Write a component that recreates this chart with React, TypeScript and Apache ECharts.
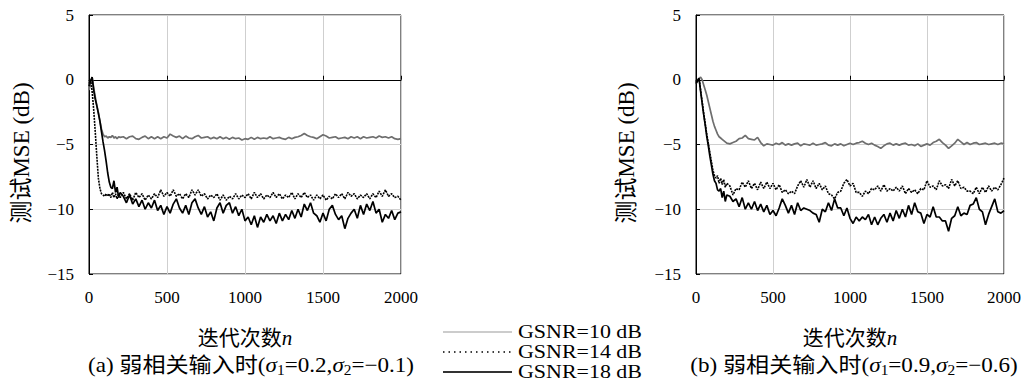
import React, { useEffect, useRef } from "react";
import * as echarts from "echarts";

// iteration index (x values shared by all series)
const xs = [
  0, 10, 20, 30, 40, 50, 60, 70, 80, 90, 100, 110, 120, 130, 140, 150, 160, 170, 180, 190, 200,
  220, 240, 260, 280, 300, 320, 340, 360, 380, 400,
  420, 440, 460, 480, 500, 520, 540, 560, 580, 600,
  620, 640, 660, 680, 700, 720, 740, 760, 780, 800,
  820, 840, 860, 880, 900, 920, 940, 960, 980, 1000,
  1020, 1040, 1060, 1080, 1100, 1120, 1140, 1160, 1180, 1200,
  1220, 1240, 1260, 1280, 1300, 1320, 1340, 1360, 1380, 1400,
  1420, 1440, 1460, 1480, 1500, 1520, 1540, 1560, 1580, 1600,
  1620, 1640, 1660, 1680, 1700, 1720, 1740, 1760, 1780, 1800,
  1820, 1840, 1860, 1880, 1900, 1920, 1940, 1960, 1980, 2000,
];

// (a) left panel
const left10 = [
  -0.8, -0.3, 0.2, -0.6, -1.3, -2.0, -2.5, -3.2, -3.8, -4.2, -4.4, -4.35, -4.5, -4.4, -4.45, -4.3, -4.5, -4.4, -4.55, -4.4, -4.45,
  -4.40, -4.55, -4.40, -4.35, -4.55, -4.60, -4.45, -4.35, -4.55, -4.40,
  -4.55, -4.40, -4.55, -4.40, -4.50, -4.20, -4.35, -4.45, -4.35, -4.55,
  -4.35, -4.50, -4.55, -4.40, -4.30, -4.50, -4.45, -4.40, -4.55, -4.45,
  -4.55, -4.40, -4.55, -4.45, -4.60, -4.45, -4.55, -4.50, -4.65, -4.55,
  -4.60, -4.45, -4.60, -4.45, -4.55, -4.50, -4.55, -4.40, -4.55, -4.50,
  -4.45, -4.55, -4.60, -4.45, -4.55, -4.45, -4.40, -4.30, -4.15, -4.30,
  -4.40, -4.45, -4.55, -4.40, -4.25, -4.35, -4.50, -4.45, -4.40, -4.55,
  -4.50, -4.45, -4.55, -4.40, -4.50, -4.40, -4.55, -4.40, -4.50, -4.45,
  -4.40, -4.50, -4.35, -4.45, -4.40, -4.50, -4.40, -4.55, -4.60, -4.55,
];
const left14 = [
  -0.5, 0.0, -0.9, -2.3, -4.0, -5.9, -7.6, -8.4, -8.8, -8.9, -9.0, -8.8, -9.0, -8.8, -9.1, -8.7, -9.1, -8.8, -9.2, -8.8, -9.1,
  -8.7, -9.2, -8.8, -9.3, -8.7, -9.1, -8.8, -9.3, -8.9, -9.2,
  -8.8, -9.1, -8.5, -9.0, -8.7, -9.0, -8.5, -9.0, -8.8, -9.2,
  -8.8, -9.1, -8.5, -8.9, -8.5, -9.0, -8.8, -9.2, -8.9, -9.1,
  -8.8, -9.3, -8.9, -9.3, -9.0, -9.2, -8.8, -9.2, -8.9, -9.1,
  -8.8, -9.2, -8.7, -9.1, -8.8, -9.2, -8.9, -9.1, -8.7, -9.1,
  -8.8, -9.2, -8.9, -9.1, -8.7, -9.2, -8.8, -9.1, -8.7, -9.1,
  -8.9, -9.3, -8.9, -9.2, -8.9, -9.3, -9.0, -9.2, -8.8, -9.1,
  -8.8, -9.2, -8.7, -9.0, -8.8, -9.2, -8.9, -9.1, -8.8, -9.2,
  -8.8, -9.1, -8.6, -9.0, -8.5, -9.0, -8.8, -9.1, -9.0, -9.3,
];
const left18 = [
  -0.3, -0.1, 0.2, -0.8, -1.5, -2.0, -2.6, -3.2, -4.0, -4.8, -5.5, -6.3, -7.2, -7.9, -8.3, -8.4, -7.8, -8.7, -8.3, -9.1, -8.7,
  -9.0, -9.5, -8.9, -9.6, -9.2, -9.8, -9.3, -10.0, -9.5, -9.9,
  -9.3, -10.1, -9.7, -10.4, -9.8, -10.3, -9.6, -9.2, -9.9, -10.3,
  -9.7, -10.4, -9.5, -9.2, -9.9, -10.4, -9.8, -10.6, -10.2, -10.9,
  -9.9, -9.5, -10.3, -9.7, -9.5, -10.3, -9.8, -10.5, -10.0, -10.9,
  -10.6, -11.2, -10.5, -11.4, -10.6, -11.0, -10.4, -10.9, -10.5, -11.1,
  -10.3, -10.9, -10.4, -10.8, -10.1, -10.7, -10.0, -10.6, -9.6, -10.1,
  -9.5, -10.3, -10.5, -11.0, -10.3, -10.9, -10.0, -9.7, -10.4, -10.8,
  -10.5, -11.5, -10.7, -10.3, -10.0, -10.7, -9.7, -10.4, -9.6, -10.1,
  -9.4, -10.3, -10.0, -11.0, -10.4, -10.7, -10.1, -10.8, -10.3, -10.2,
];

// (b) right panel
const right10 = [
  -0.3, -0.1, 0.1, 0.2, 0.0, -0.4, -0.8, -1.2, -1.7, -2.2, -2.7, -3.2, -3.6, -3.9, -4.2, -4.4, -4.5, -4.6, -4.7, -4.8, -4.9,
  -4.95, -4.85, -4.75, -4.55, -4.5, -4.3, -4.55, -4.6, -4.65, -4.45,
  -4.85, -5.1, -4.95, -5.0, -5.05, -4.9, -5.0, -4.85, -5.05, -4.95,
  -5.05, -4.95, -4.9, -5.1, -4.95, -5.0, -5.05, -4.9, -5.05, -5.0,
  -4.95, -4.85, -5.05, -5.1, -4.95, -5.05, -4.95, -5.1, -5.0, -4.9,
  -5.0, -4.9, -4.85, -4.75, -4.9, -5.0, -4.9, -5.05, -5.15, -5.3,
  -5.1, -4.95, -4.9, -5.05, -4.95, -5.05, -4.95, -4.9, -5.05, -5.0,
  -5.1, -4.95, -5.15, -5.05, -4.95, -5.05, -4.85, -4.75, -4.6, -4.85,
  -5.05, -5.3, -5.1, -4.9, -4.6, -4.8, -5.0, -4.85, -5.0, -4.9,
  -4.85, -5.0, -4.95, -4.9, -5.0, -4.95, -4.9, -5.0, -4.9, -4.95,
];
const right14 = [
  -0.2, 0.0, 0.1, -0.8, -1.7, -2.6, -3.4, -4.2, -4.9, -5.6, -6.3, -7.0, -7.4, -7.6, -7.4, -8.0, -7.6, -8.1, -7.7, -8.3, -8.0,
  -8.2, -8.9, -8.4, -8.5, -7.9, -8.3, -7.8, -8.4, -8.0, -8.5,
  -7.9, -8.4, -7.9, -8.4, -8.0, -8.5, -8.1, -8.7, -8.5, -8.8,
  -8.6, -8.8, -8.2, -7.8, -8.3, -7.7, -8.3, -7.8, -8.4, -8.0,
  -8.5, -8.2, -8.8, -8.9, -9.2, -8.7, -8.6, -8.0, -7.7, -8.2,
  -8.0, -8.7, -8.7, -9.0, -8.6, -8.8, -8.4, -8.5, -8.2, -8.6,
  -8.1, -8.6, -8.4, -8.6, -8.3, -8.6, -8.2, -8.8, -8.4, -8.7,
  -8.5, -8.8, -8.4, -8.5, -7.8, -8.3, -8.2, -8.5, -7.8, -8.2,
  -8.1, -8.4, -7.7, -8.2, -7.8, -8.4, -8.3, -8.6, -8.6, -8.8,
  -8.3, -8.8, -8.3, -8.7, -8.2, -8.6, -8.3, -8.5, -8.1, -7.6,
];
const right18 = [
  -0.3, -0.1, 0.1, -0.9, -1.8, -2.7, -3.5, -4.4, -5.1, -5.9, -6.6, -7.3, -7.8, -8.0, -8.5, -8.6, -8.4, -9.1, -8.6, -9.4, -8.9,
  -9.0, -9.4, -9.2, -9.8, -9.1, -10.0, -9.5, -10.0, -9.4, -10.1,
  -9.6, -10.2, -9.7, -10.4, -10.1, -10.5, -9.9, -9.2, -9.7, -10.3,
  -9.7, -10.4, -9.5, -10.1, -9.9, -10.0, -10.1, -10.3, -10.4, -11.0,
  -10.0, -10.2, -9.5, -10.1, -9.2, -9.9, -9.9, -10.5, -9.9, -10.7,
  -11.1, -10.6, -10.9, -10.6, -10.8, -10.4, -11.2, -10.6, -11.2, -10.7,
  -10.4, -11.0, -10.3, -10.9, -10.1, -10.7, -10.0, -10.6, -9.7, -10.4,
  -9.5, -10.2, -10.3, -11.1, -10.4, -10.6, -9.8, -10.6, -10.6, -10.9,
  -10.9, -11.7, -10.7, -10.5, -9.8, -10.5, -10.3, -10.4, -9.7, -9.6,
  -9.1, -10.0, -10.2, -11.2, -10.4, -9.8, -9.2, -10.2, -10.3, -10.1,
];

const legendLabels = ["GSNR=10 dB", "GSNR=14 dB", "GSNR=18 dB"];
const xTicks = [0, 500, 1000, 1500, 2000];
const yTicks = [-15, -10, -5, 0, 5];
const xName = "迭代次数{n|n}";
const yName = "测试MSE (dB)";
const captions = [
  "(a) 弱相关输入时({s|σ}{sub|1}=0.2,{s|σ}{sub|2}=−0.1)",
  "(b) 弱相关输入时({s|σ}{sub|1}=0.9,{s|σ}{sub|2}=−0.6)",
];

const SERIF = "Liberation Serif, serif";
const MIXED = "Liberation Serif, Noto Sans CJK SC, serif";

const GRAY = "#6e6e6e";

const zip = (ys: number[]) => ys.map((y, i) => [xs[i], y]);

const styles = [
  { color: GRAY, type: "solid", width: 1.7 },
  { color: "#000", type: [2, 1], width: 1.6 },
  { color: "#000", type: "solid", width: 1.7 },
];

export default function App() {
  const ref = useRef<HTMLDivElement>(null);
  useEffect(() => {
    if (!ref.current) return;
    const chart = echarts.init(ref.current, undefined, { renderer: "svg" });
    const grids = [
      { left: 89, top: 15, width: 312, height: 259 },
      { left: 696, top: 15, width: 310, height: 259 },
    ];
    const xAxis = grids.map((_, i) => ({
      type: "value",
      gridIndex: i,
      min: xTicks[0],
      max: xTicks[xTicks.length - 1],
      interval: 500,
      name: xName,
      nameLocation: "middle",
      nameGap: 53,
      nameTextStyle: {
        fontSize: 21,
        fontFamily: MIXED,
        color: "#000",
        rich: { n: { fontSize: 21, fontFamily: SERIF, fontStyle: "italic", color: "#000" } },
      },
      axisLine: { show: true, lineStyle: { color: "#000", width: 1 } },
      axisTick: { show: true, inside: true, length: 4, lineStyle: { color: "#000" } },
      axisLabel: {
        fontSize: 17,
        fontFamily: SERIF,
        color: "#000",
        margin: 15,
        formatter: (v: number) => String(v),
      },
      splitLine: { show: true, lineStyle: { color: "#cfcfcf", width: 1 } },
    }));
    const yAxis = grids.map((_, i) => ({
      type: "value",
      gridIndex: i,
      min: yTicks[0],
      max: yTicks[yTicks.length - 1],
      interval: 5,
      axisLine: { show: true, lineStyle: { color: "#000", width: 1 } },
      axisTick: { show: true, inside: true, length: 4, lineStyle: { color: "#000" } },
      axisLabel: {
        fontSize: 17,
        fontFamily: SERIF,
        color: "#000",
        margin: 15,
        formatter: (v: number) => (v < 0 ? "−" + Math.abs(v) : String(v)),
      },
      splitLine: { show: true, lineStyle: { color: "#cfcfcf", width: 1 } },
    }));
    const panels = [
      [left10, left14, left18],
      [right10, right14, right18],
    ];
    const series: any[] = [];
    panels.forEach((p, gi) => {
      p.forEach((ys, si) => {
        series.push({
          type: "line",
          name: legendLabels[si],
          xAxisIndex: gi,
          yAxisIndex: gi,
          data: zip(ys),
          showSymbol: false,
          symbol: "none",
          lineStyle: styles[si],
          itemStyle: { color: styles[si].color },
          z: si === 0 ? 3 : 4 + si,
        });
      });
    });

    const captionRich = {
      s: { fontSize: 21, fontFamily: SERIF, fontStyle: "italic", lineHeight: 24, fill: "#000" },
      sub: { fontSize: 14, fontFamily: SERIF, verticalAlign: "bottom", lineHeight: 14, fill: "#000" },
    };
    const legendY = [332, 352, 372];
    const legendStroke = [
      { stroke: "#9a9a9a", lineWidth: 1.2 },
      { stroke: "#000", lineWidth: 1.5, lineDash: [1.5, 4] },
      { stroke: "#333", lineWidth: 1.8 },
    ];
    const graphic: any[] = [];
    legendLabels.forEach((lab, i) => {
      graphic.push({
        type: "line",
        shape: { x1: 443, y1: legendY[i], x2: 512, y2: legendY[i] },
        style: legendStroke[i],
      });
      graphic.push({
        type: "text",
        x: 518,
        y: legendY[i],
        scaleX: 1.22,
        style: {
          text: lab,
          fontSize: 18,
          fontFamily: SERIF,
          fill: "#000",
          align: "left",
          verticalAlign: "middle",
        },
      });
    });
    [21, 626].forEach((x) => {
      graphic.push({
        type: "text",
        x,
        y: 153,
        rotation: Math.PI / 2,
        style: {
          text: yName,
          fontSize: 23,
          fontFamily: MIXED,
          fill: "#000",
          align: "center",
          verticalAlign: "middle",
        },
      });
    });
    [251, 854].forEach((x, i) => {
      graphic.push({
        type: "text",
        x,
        y: 365,
        scaleX: 1.1,
        style: {
          text: captions[i],
          fontSize: 21,
          fontFamily: MIXED,
          lineHeight: 24,
          fill: "#000",
          align: "center",
          verticalAlign: "middle",
          rich: captionRich,
        },
      });
    });

    chart.setOption({
      animation: false,
      backgroundColor: "#fff",
      grid: grids.map((g) => ({ ...g, show: true, borderColor: "#000", borderWidth: 1, backgroundColor: "transparent" })),
      xAxis,
      yAxis,
      series,
      graphic,
    });
    return () => chart.dispose();
  }, []);
  return (
    <div
      ref={ref}
      style={{ position: "fixed", left: 0, top: 0, width: 1024, height: 383, background: "#fff" }}
    />
  );
}
